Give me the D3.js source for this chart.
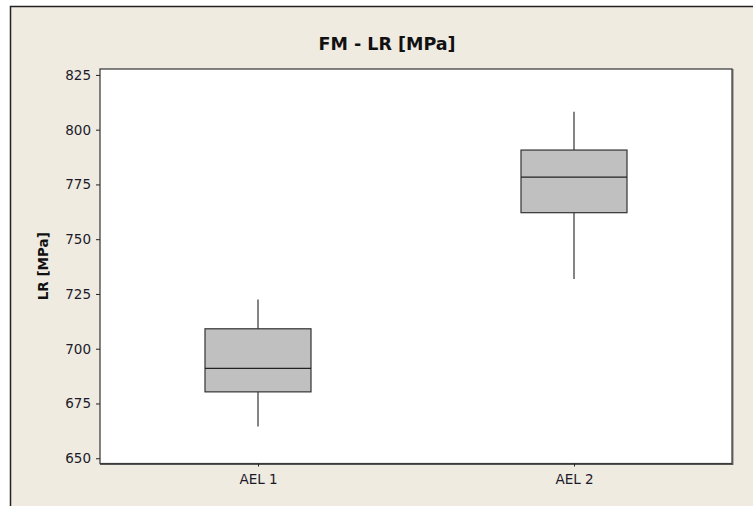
<!DOCTYPE html>
<html><head><meta charset="utf-8">
<script src="https://cdn.jsdelivr.net/npm/d3@7"></script>
<style>body{margin:0;background:#fff}svg{display:block}</style>
</head><body>
<script>
const categories = ["AEL 1", "AEL 2"];
const whiskerLow = [664.5, 731.8];
const q1 = [680.3, 762.1];
const median = [691.0, 778.3];
const q3 = [709.1, 790.7];
const whiskerHigh = [722.5, 808.2];
const yTicks = [650, 675, 700, 725, 750, 775, 800, 825];

const W = 753, H = 506;
const svg = d3.select("body").append("svg").attr("width", W).attr("height", H);
svg.append("rect").attr("width", W).attr("height", H).attr("fill", "#fff");
svg.append("rect").attr("x", 10.5).attr("y", 6.5).attr("width", W + 10).attr("height", H + 10)
  .attr("fill", "#F0EBE1").attr("stroke", "#222").attr("stroke-width", 1.5);

const m = {l: 100, t: 69, r: 732, b: 463.5};
const y = d3.scaleLinear().domain([647.6, 827.7]).range([m.b, m.t]);
const x = d3.scalePoint().domain(categories).range([m.l, m.r]).padding(0.5);
const boxW = 106;
const font = "Tahoma, 'DejaVu Sans', Verdana, sans-serif";

svg.append("rect").attr("x", m.l).attr("y", m.t).attr("width", m.r - m.l).attr("height", m.b - m.t)
  .attr("fill", "#fff").attr("stroke", "#333").attr("stroke-width", 1.2);
svg.append("path").attr("d", `M${m.l},${m.b+0.8}H${m.r+0.8}V${m.t}`).attr("fill","none")
  .attr("stroke","#555").attr("stroke-width",1.2);

const yAxis = svg.append("g").attr("transform", `translate(${m.l},0)`)
  .call(d3.axisLeft(y).tickValues(yTicks).tickSize(4).tickPadding(5));
yAxis.select(".domain").remove();
yAxis.selectAll("line").attr("stroke", "#222");
yAxis.selectAll("text").attr("font-family", font).attr("font-size", 13.5).attr("fill", "#1a1a2a");

const xAxis = svg.append("g").attr("transform", `translate(0,${m.b})`)
  .call(d3.axisBottom(x).tickSize(3).tickPadding(8));
xAxis.select(".domain").remove();
xAxis.selectAll("line").attr("stroke", "#222");
xAxis.selectAll("text").attr("font-family", font).attr("font-size", 13.5).attr("fill", "#1a1a2a");

const g = svg.append("g");
categories.forEach((c, i) => {
  const cx = x(c);
  g.append("line").attr("x1", cx).attr("x2", cx).attr("y1", y(whiskerHigh[i])).attr("y2", y(q3[i]))
    .attr("stroke", "#333").attr("stroke-width", 1.2);
  g.append("line").attr("x1", cx).attr("x2", cx).attr("y1", y(q1[i])).attr("y2", y(whiskerLow[i]))
    .attr("stroke", "#333").attr("stroke-width", 1.2);
  g.append("rect").attr("x", cx - boxW/2).attr("y", y(q3[i])).attr("width", boxW)
    .attr("height", y(q1[i]) - y(q3[i])).attr("fill", "#C0C0C0").attr("stroke", "#333").attr("stroke-width", 1.2);
  g.append("line").attr("x1", cx - boxW/2).attr("x2", cx + boxW/2).attr("y1", y(median[i])).attr("y2", y(median[i]))
    .attr("stroke", "#222").attr("stroke-width", 1.2);
});

svg.append("text").attr("x", 387).attr("y", 50).attr("text-anchor", "middle")
  .attr("font-family", font).attr("font-weight", "bold").attr("font-size", 17.5).attr("fill", "#111")
  .text("FM - LR [MPa]");
svg.append("text").attr("transform", `translate(48,${(m.t+m.b)/2}) rotate(-90)`).attr("text-anchor", "middle")
  .attr("font-family", font).attr("font-weight", "bold").attr("font-size", 13.5).attr("fill", "#111")
  .text("LR [MPa]");
</script>
</body></html>
